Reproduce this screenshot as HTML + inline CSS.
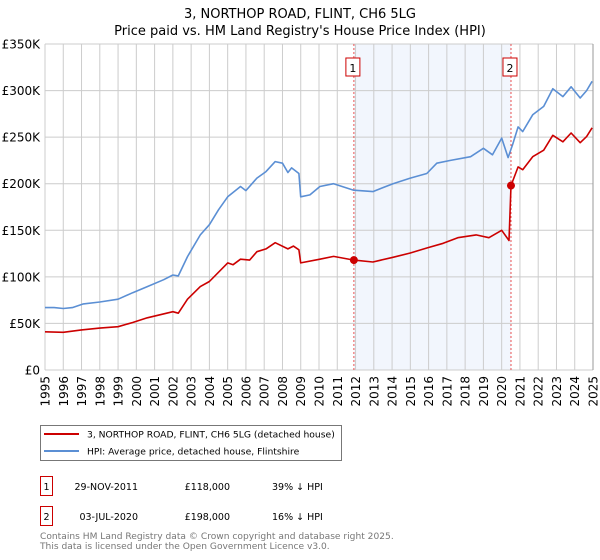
<!DOCTYPE html>
<html><head><meta charset="utf-8"><style>
body{margin:0;background:#fff;width:600px;height:560px;overflow:hidden;font-family:"DejaVu Sans","Liberation Sans",sans-serif;}
svg{position:absolute;left:0;top:0;}
</style></head><body>
<svg id="chart" width="600" height="560" xmlns="http://www.w3.org/2000/svg"></svg>
<script>
const hpiYears=[1995.0,1995.5,1996.0,1996.5,1997.1,1998.0,1999.0,1999.8,2000.6,2001.5,2002.0,2002.3,2002.8,2003.5,2004.0,2004.5,2005.0,2005.7,2006.0,2006.6,2007.1,2007.6,2008.0,2008.3,2008.5,2008.9,2009.0,2009.5,2010.05,2010.8,2011.9,2012.95,2014.05,2015.0,2015.9,2016.45,2017.2,2018.3,2019.0,2019.5,2020.0,2020.35,2020.6,2020.9,2021.15,2021.7,2022.3,2022.8,2023.35,2023.8,2024.3,2024.65,2024.95];
const hpiValues=[67,67,66,67,71,73,76,83,89.5,97,102,101,121.7,145,156,172,186,197,192.6,206,213,223.7,222,212,217,211,186,188,197,200,193,191.5,200,206,211,222,225,229,238,231,249,228,242,261,256,274,283,302,293.5,304,292,300,310];
const ppYears=[1995.0,1996.0,1997.0,1998.0,1999.0,1999.8,2000.6,2002.0,2002.3,2002.8,2003.5,2004.0,2005.0,2005.3,2005.7,2006.2,2006.6,2007.1,2007.6,2008.3,2008.6,2008.9,2009.0,2010.05,2010.8,2011.91,2012.95,2014.05,2015.0,2015.9,2016.8,2017.6,2018.6,2019.3,2020.0,2020.4,2020.51,2020.9,2021.15,2021.7,2022.3,2022.8,2023.35,2023.8,2024.3,2024.65,2024.95];
const ppValues=[41,40.5,43,45,46.5,51,56,62.6,61,76,89.5,95,115,113,119,118,127,130,136.7,130,133,129,115,119,122,118,116,121,125.6,131,136,142,145,142,150,139,198,218,215,229,236,252,245,254.5,244,250.6,260];
const yTicks=[0,50,100,150,200,250,300,350];
const yTickLabels=["£0","£50K","£100K","£150K","£200K","£250K","£300K","£350K"];
const xTicks=[1995,1996,1997,1998,1999,2000,2001,2002,2003,2004,2005,2006,2007,2008,2009,2010,2011,2012,2013,2014,2015,2016,2017,2018,2019,2020,2021,2022,2023,2024,2025];
const saleYears=[2011.91,2020.51];
const saleValues=[118,198];
const saleLabels=["1","2"];

const L=45,R=593,T=44,B=370;
const x=y=>L+(y-1995)/30*(R-L);
const yv=v=>B-v/350*(B-T);
const svg=document.getElementById('chart');
const NS='http://www.w3.org/2000/svg';
function mk(tag,attrs,text){const e=document.createElementNS(NS,tag);for(const k in attrs)e.setAttribute(k,attrs[k]);if(text!==undefined)e.textContent=text;svg.appendChild(e);return e;}

let t;
t=mk('text',{x:300,y:18,'text-anchor':'middle','font-size':13,fill:'#000'},'3, NORTHOP ROAD, FLINT, CH6 5LG');


t=mk('text',{x:300,y:35,'text-anchor':'middle','font-size':13,fill:'#000'},"Price paid vs. HM Land Registry's House Price Index (HPI)");



t=mk('rect',{x:x(saleYears[0]),y:T,width:x(saleYears[1])-x(saleYears[0]),height:B-T,fill:'#eef3fc',opacity:0.75});



xTicks.forEach(yr=>{
  const g=mk('line',{x1:x(yr),x2:x(yr),y1:T,y2:B,stroke:'#cccccc','stroke-width':1});
  
  
  const lb=mk('text',{transform:`translate(${x(yr)+4.5},${376}) rotate(-90)`,'text-anchor':'end','font-size':12,fill:'#000'},String(yr));
  
  
});
yTicks.forEach((v,i)=>{
  const g=mk('line',{x1:L,x2:R,y1:yv(v),y2:yv(v),stroke:'#cccccc','stroke-width':1});
  
  
  const lb=mk('text',{x:40,y:yv(v)+4.5,'text-anchor':'end','font-size':12,fill:'#000'},yTickLabels[i]);
  
  
});
t=mk('line',{x1:R,x2:R,y1:T,y2:B,stroke:'#999','stroke-width':1});



saleYears.forEach((s,i)=>{
  const d=mk('line',{x1:x(s),x2:x(s),y1:T,y2:B,stroke:'#e85050','stroke-width':1,'stroke-dasharray':'2,2'});
  
  
  const bx=mk('rect',{x:x(s)-8,y:58,width:14,height:18,fill:'#fff',stroke:'#cc0000','stroke-width':1});
  
  
  const bt=mk('text',{x:x(s)-1,y:72,'text-anchor':'middle','font-size':11,fill:'#000'},saleLabels[i]);
  
  
});

function path(xs,vs){return xs.map((a,i)=>(i?'L':'M')+x(a).toFixed(1)+','+yv(vs[i]).toFixed(1)).join('');}
t=mk('path',{d:path(hpiYears,hpiValues),fill:'none',stroke:'#5b8fd4','stroke-width':1.6,'stroke-linejoin':'round'});


t=mk('path',{d:path(ppYears,ppValues),fill:'none',stroke:'#cc0000','stroke-width':1.6,'stroke-linejoin':'round'});


saleYears.forEach((s,i)=>{
  const c=mk('circle',{cx:x(s),cy:yv(saleValues[i]),r:4,fill:'#cc0000'});
  
  
});

t=mk('rect',{x:40.5,y:425.5,width:301,height:35,fill:'#fff',stroke:'#777','stroke-width':1});


t=mk('line',{x1:44,x2:79,y1:434,y2:434,stroke:'#cc0000','stroke-width':2});


t=mk('text',{x:87,y:437.5,'font-size':9.2,fill:'#000'},'3, NORTHOP ROAD, FLINT, CH6 5LG (detached house)');


t=mk('line',{x1:44,x2:79,y1:451,y2:451,stroke:'#5b8fd4','stroke-width':2});


t=mk('text',{x:87,y:454.5,'font-size':9.2,fill:'#000'},'HPI: Average price, detached house, Flintshire');



const rows=[["1","29-NOV-2011","£118,000","39% ↓ HPI"],["2","03-JUL-2020","£198,000","16% ↓ HPI"]];
rows.forEach((r,i)=>{
  const yy=i*30;
  const b=mk('rect',{x:40.5,y:476.5+yy,width:12,height:19,fill:'#fff',stroke:'#cc0000','stroke-width':1});
  
  
  const a=mk('text',{x:46.5,y:490+yy,'text-anchor':'middle','font-size':9.5,fill:'#000'},r[0]);
  
  
  const d=mk('text',{x:138,y:490+yy,'text-anchor':'end','font-size':9.5,fill:'#000'},r[1]);
  
  
  const p=mk('text',{x:230,y:490+yy,'text-anchor':'end','font-size':9.5,fill:'#000'},r[2]);
  
  
  const h=mk('text',{x:272,y:490+yy,'font-size':9.5,fill:'#000'},r[3]);
  
  
});
t=mk('text',{x:40,y:539,'font-size':9.1,fill:'#777'},'Contains HM Land Registry data © Crown copyright and database right 2025.');


t=mk('text',{x:40,y:549,'font-size':9.1,fill:'#777'},'This data is licensed under the Open Government Licence v3.0.');


</script>
</body></html>
